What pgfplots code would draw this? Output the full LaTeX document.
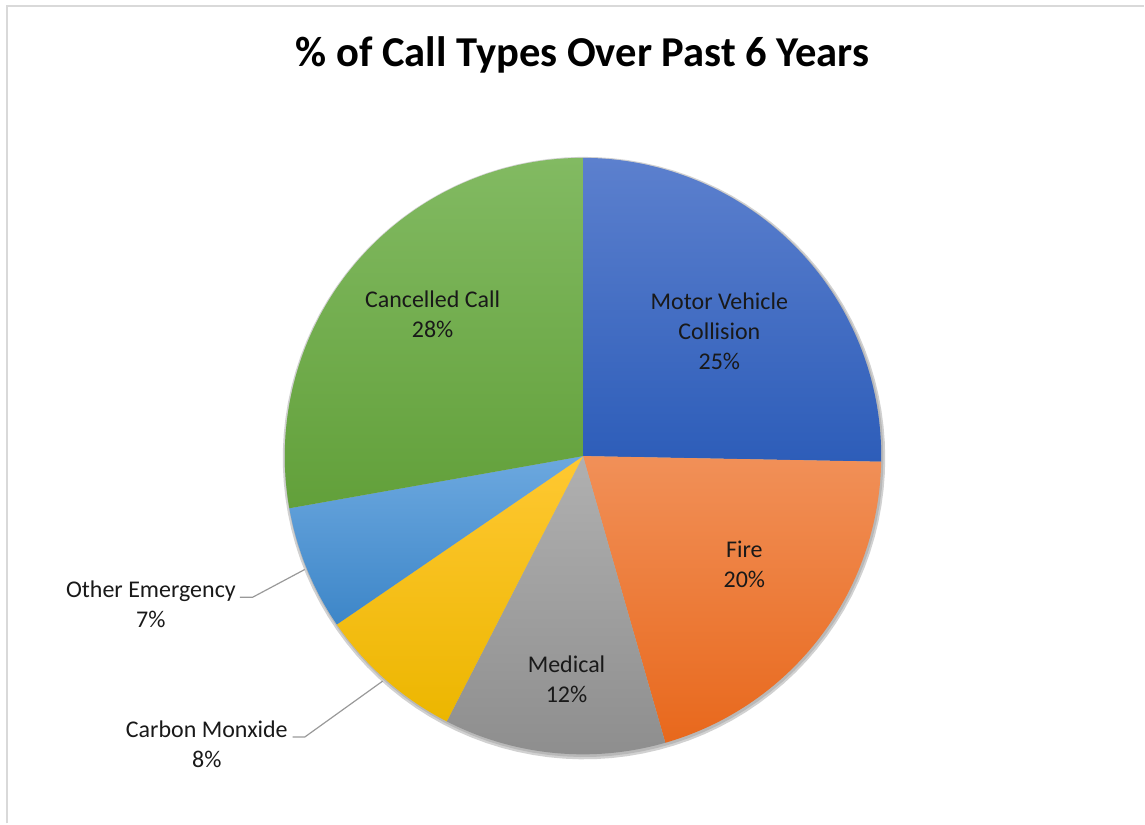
\documentclass[border=0pt]{standalone}
\usepackage{pgfplots}
\pgfplotsset{compat=1.18}
\usepackage{fontspec}
\setmainfont{Carlito}
% values (percent of calls)
\def\vMVC{25.3}
\def\vFire{20.25}
\def\vMed{12.0}
\def\vCO{7.9}
\def\vOther{6.75}
\def\vCanc{27.8}
\pgfmathsetmacro\aA{90}
\pgfmathsetmacro\aB{\aA-3.6*\vMVC}
\pgfmathsetmacro\aC{\aB-3.6*\vFire}
\pgfmathsetmacro\aD{\aC-3.6*\vMed}
\pgfmathsetmacro\aE{\aD-3.6*\vCO}
\pgfmathsetmacro\aF{\aE-3.6*\vOther}
\pgfmathsetmacro\aG{\aF-3.6*\vCanc}
\def\cx{583.5}
\def\cy{367.5}
\def\R{298.5}
\definecolor{mvcT}{HTML}{5C80CE}
\definecolor{mvcB}{HTML}{2D5DB9}
\definecolor{fireT}{HTML}{F19058}
\definecolor{fireB}{HTML}{E8681C}
\definecolor{medT}{HTML}{B0B0B0}
\definecolor{medB}{HTML}{8E8E8E}
\definecolor{coT}{HTML}{FFC832}
\definecolor{coB}{HTML}{ECB600}
\definecolor{othT}{HTML}{6CA8DF}
\definecolor{othB}{HTML}{3D86C8}
\definecolor{canT}{HTML}{82BA62}
\definecolor{canB}{HTML}{62A03A}
\begin{document}
\begin{tikzpicture}
\begin{axis}[
  scale only axis, width=572.5pt, height=412pt,
  xmin=0, xmax=1145, ymin=0, ymax=824,
  hide axis, clip=false,
  samples=80, variable=\t,
]
\path (axis cs:0,0) rectangle (axis cs:1145,824);
\draw[color=black!15, line width=1pt] (axis cs:7,0) -- (axis cs:7,818) -- (axis cs:1145,818);
% shadow
\addplot[draw=none, fill=black!18, domain=0:360, samples=120] ({\cx+1+(\R+3)*cos(\t)},{\cy-2+(\R+3)*sin(\t)}) -- cycle;
\addplot[draw=none, fill=black!28, domain=0:360, samples=120] ({\cx+1+(\R+1.2)*cos(\t)},{\cy-1.5+(\R+1.2)*sin(\t)}) -- cycle;
% slices
\addplot[draw=none, top color=mvcT, bottom color=mvcB, domain=\aB:\aA] ({\cx+\R*cos(\t)},{\cy+\R*sin(\t)}) -- (axis cs:\cx,\cy) -- cycle;
\addplot[draw=none, top color=fireT, bottom color=fireB, domain=\aC:\aB] ({\cx+\R*cos(\t)},{\cy+\R*sin(\t)}) -- (axis cs:\cx,\cy) -- cycle;
\addplot[draw=none, top color=medT, bottom color=medB, domain=\aD:\aC] ({\cx+\R*cos(\t)},{\cy+\R*sin(\t)}) -- (axis cs:\cx,\cy) -- cycle;
\addplot[draw=none, top color=coT, bottom color=coB, domain=\aE:\aD] ({\cx+\R*cos(\t)},{\cy+\R*sin(\t)}) -- (axis cs:\cx,\cy) -- cycle;
\addplot[draw=none, top color=othT, bottom color=othB, domain=\aF:\aE] ({\cx+\R*cos(\t)},{\cy+\R*sin(\t)}) -- (axis cs:\cx,\cy) -- cycle;
\addplot[draw=none, top color=canT, bottom color=canB, domain=\aG:\aF] ({\cx+\R*cos(\t)},{\cy+\R*sin(\t)}) -- (axis cs:\cx,\cy) -- cycle;
% leader lines
\draw[color=black!40, line width=0.6pt] (axis cs:240,226.3) -- (axis cs:253,226.3) -- (axis cs:305,254);
\draw[color=black!40, line width=0.6pt] (axis cs:293,86.3) -- (axis cs:305,86.3) -- (axis cs:383,142.3);
% labels
\tikzset{lab/.style={align=center, font=\fontsize{12}{15}\selectfont, text=black!90, inner sep=0pt}}
\node[lab] at (axis cs:720,492) {Motor Vehicle\\Collision\\25\%};
\node[lab] at (axis cs:745,259) {Fire\\20\%};
\node[lab] at (axis cs:567,144) {Medical\\12\%};
\node[lab] at (axis cs:433,509) {Cancelled Call\\28\%};
\node[lab] at (axis cs:151,219) {Other Emergency\\7\%};
\node[lab] at (axis cs:207,79) {Carbon Monxide\\8\%};
\node[font=\fontsize{21.3}{25}\selectfont\bfseries, inner sep=0pt] at (axis cs:583,769) {\% of Call Types Over Past 6 Years};
\end{axis}
\end{tikzpicture}
\end{document}
